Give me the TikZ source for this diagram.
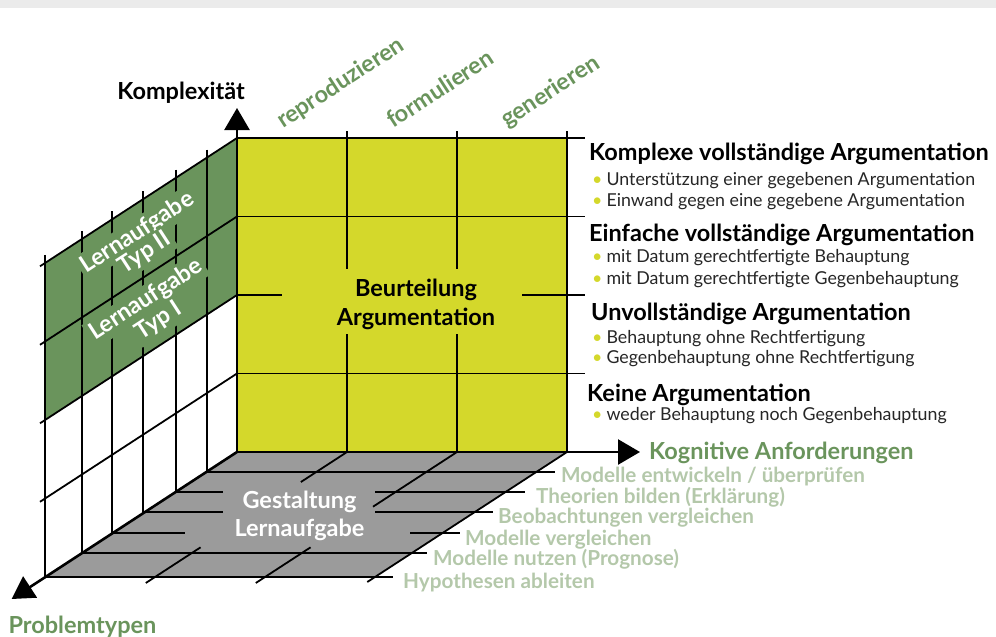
\documentclass[tikz,border=0pt]{standalone}
\usepackage{fontspec}
\setmainfont{Lato}
\usepackage{xcolor}
\usepackage{tikz}
\usetikzlibrary{arrows.meta}

\definecolor{argyellow}{HTML}{D4D82B}
\definecolor{wallgreen}{HTML}{6A945C}
\definecolor{floorgray}{HTML}{9B9B9B}
\definecolor{palegreen}{HTML}{B4C8AA}
\definecolor{topband}{HTML}{EBEBEB}

\tikzset{
  gridline/.style={line width=1.8pt},
  mainaxis/.style={line width=2.6pt, -{Triangle[length=22pt,width=25pt]}},
  biglabel/.style={inner sep=0pt, font=\fontsize{23.5}{27}\selectfont\bfseries},
  argtitle/.style={biglabel, anchor=base west},
  argitem/.style={inner sep=0pt, anchor=base west, text=black!85, font=\fontsize{17.8}{20}\selectfont},
  floorlabel/.style={biglabel, anchor=base west, text=palegreen, font=\fontsize{20.7}{24}\selectfont\bfseries},
  verblabel/.style={biglabel, anchor=base west, rotate=33, text=wallgreen},
  walllabel/.style={biglabel, rotate=33, fill=wallgreen, text=white, inner sep=3pt},
}
\newcommand{\yb}{\textcolor{argyellow}{\textbullet}\hspace{4pt}}

\begin{document}
\begin{tikzpicture}[x=1pt, y=-1pt]
\useasboundingbox (0,0) rectangle (996,637);
\fill[topband] (0,0) rectangle (996,7.5);

\coordinate (O) at (237,452);
\coordinate (up) at (237,108);
\coordinate (right) at (640,452);
\coordinate (front) at (11.7,599);

% floor
\fill[floorgray] (237,452) -- (567,452) -- (375,577) -- (45,577) -- cycle;
\draw[gridline] (206.3,472) -- (555,472);
\draw[gridline] (176,491.7) -- (222.7,491.7) (375,491.7) -- (525,491.7);
\draw[gridline] (144.8,512) -- (222.7,512) (375,512) -- (492.7,512);
\draw[gridline] (112.6,533.3) -- (185,533.3) (410,533.3) -- (460,533.3);
\draw[gridline] (82.2,553.3) -- (427.3,553.3);
\draw[gridline] (45,577) -- (392.7,577);
\draw[gridline] (567,452) -- (367.3,582);
\draw[gridline] (347,452) -- (300.9,482) (200.6,547.3) -- (145.8,583);
\draw[gridline] (457,452) -- (373,506.7) (310.6,547.3) -- (255.8,583);
\node[biglabel, text=white] (gest1) at (299.5,508) [anchor=base] {Gestaltung};
\node[biglabel, text=white] (gest2) at (299.5,536.7) [anchor=base] {Lernaufgabe};

% left wall
\fill[wallgreen] (237,138) -- (45,263) -- (45,420) -- (237,295) -- cycle;
\foreach \x in {45,82,112,143,176,207}
  \draw[gridline] (\x,{130+(237-\x)*0.651}) -- (\x,{452+(237-\x)*0.651});
\node[walllabel] (typ2a) at (137.5,233) {Lernaufgabe};
\node[walllabel] (typ2b) at (145,253) {Typ II};
\node[walllabel] (typ1a) at (146,300) {Lernaufgabe};
\node[walllabel] (typ1b) at (159,321) {Typ I};
\foreach \y in {138,216.5,295,373.5}
  \draw[gridline] (237,\y) -- (40,{\y+128.3});

% front panel
\fill[argyellow] (237,138) rectangle (567,452);
\foreach \y in {138,216.5,373.5}
  \draw[gridline] (237,\y) -- (585,\y);
\draw[gridline] (237,295) -- (282,295) (522,295) -- (585,295);
\foreach \x in {347,457}
  \draw[gridline] (\x,131) -- (\x,269) (\x,334) -- (\x,452);
\draw[gridline] (567,131) -- (567,452);
\node[biglabel] (beurt1) at (416,296.7) [anchor=base] {Beurteilung};
\node[biglabel] (beurt2) at (416,325) [anchor=base] {Argumentation};

% axes
\draw[mainaxis] (O) -- (up);
\draw[mainaxis] (O) -- (right);
\draw[mainaxis] (O) -- (front);
\node[biglabel, anchor=base] (komplex) at (181,99) {Komplexität};
\node[biglabel, anchor=base west, text=wallgreen] (kogn) at (649,459) {Kognitive Anforderungen};
\node[biglabel, anchor=base, text=wallgreen] (probl) at (82.5,633.3) {Problemtypen};

% verbs
\node[verblabel] (repro) at (283,129) {reproduzieren};
\node[verblabel] (formu) at (393,129) {formulieren};
\node[verblabel] (gener) at (507,128) {generieren};

% levels of argumentation
\node[argtitle] (lvl4) at (589,160) {Komplexe vollständige Argumentation};
\node[argitem] (lvl4a) at (592,185) {\yb Unterstützung einer gegebenen Argumentation};
\node[argitem] (lvl4b) at (592,206) {\yb Einwand gegen eine gegebene Argumentation};
\node[argtitle] (lvl3) at (589,241) {Einfache vollständige Argumentation};
\node[argitem] (lvl3a) at (592,262.7) {\yb mit Datum gerechtfertigte Behauptung};
\node[argitem] (lvl3b) at (592,284) {\yb mit Datum gerechtfertigte Gegenbehauptung};
\node[argtitle] (lvl2) at (591,320.7) {Unvollständige Argumentation};
\node[argitem] (lvl2a) at (592,343.3) {\yb Behauptung ohne Rechtfertigung};
\node[argitem] (lvl2b) at (592,363.3) {\yb Gegenbehauptung ohne Rechtfertigung};
\node[argtitle] (lvl1) at (587,401.7) {Keine Argumentation};
\node[argitem] (lvl1a) at (592,420) {\yb weder Behauptung noch Gegenbehauptung};

% task types
\node[floorlabel] (task6) at (561,482) {Modelle entwickeln / überprüfen};
\node[floorlabel] (task5) at (536,503) {Theorien bilden (Erklärung)};
\node[floorlabel] (task4) at (498,523.5) {Beobachtungen vergleichen};
\node[floorlabel] (task3) at (465,545) {Modelle vergleichen};
\node[floorlabel] (task2) at (433,565.5) {Modelle nutzen (Prognose)};
\node[floorlabel] (task1) at (403,588.3) {Hypothesen ableiten};
\end{tikzpicture}
\end{document}
